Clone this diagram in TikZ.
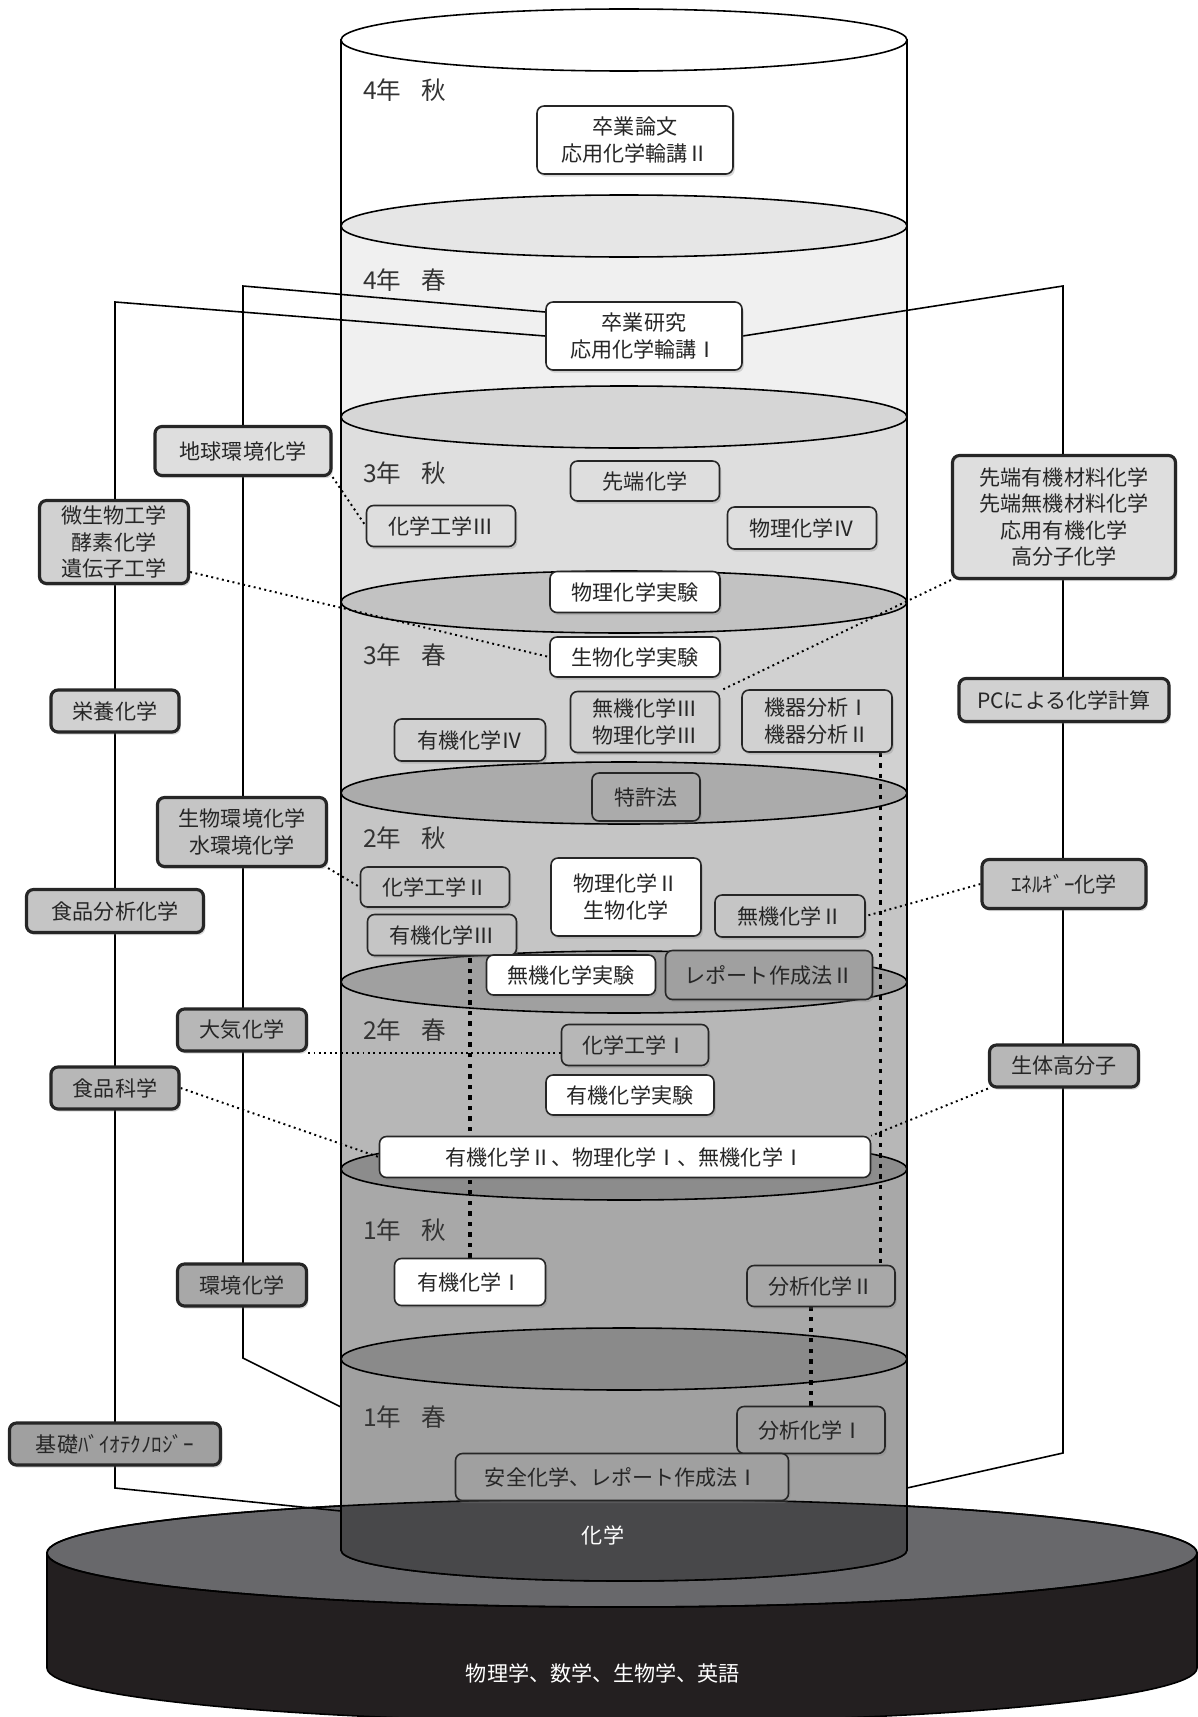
\documentclass[tikz,border=0pt]{standalone}
\usepackage{fontspec}
\setmainfont{Noto Sans CJK JP}
\usetikzlibrary{shadows}

\definecolor{ly4a}{HTML}{FFFFFF}
\definecolor{ly4s}{HTML}{F0F0F0}
\definecolor{ly3a}{HTML}{DEDEDE}
\definecolor{ly3s}{HTML}{D1D1D1}
\definecolor{ly2a}{HTML}{C5C5C5}
\definecolor{ly2s}{HTML}{B7B7B7}
\definecolor{ly1a}{HTML}{A8A8A8}
\definecolor{ly1s}{HTML}{A0A0A0}
\definecolor{el4s}{HTML}{E6E6E6}
\definecolor{el3a}{HTML}{D6D6D6}
\definecolor{el3s}{HTML}{C2C2C2}
\definecolor{el2a}{HTML}{ABABAB}
\definecolor{el2s}{HTML}{A0A0A0}
\definecolor{el1a}{HTML}{8C8C8C}
\definecolor{el1s}{HTML}{8A8A8A}
\definecolor{cyldark}{HTML}{48484A}
\definecolor{basetop}{HTML}{68686B}
\definecolor{baseside}{HTML}{231F20}

\pgfdeclarelayer{back}
\pgfdeclarelayer{mid}
\pgfsetlayers{back,mid,main}

\tikzset{
  wh/.style 2 args={minimum width=#1*0.02cm, minimum height=#2*0.02cm},
  course/.style={draw=black!85, line width=0.9pt, rounded corners=4pt, align=center,
    inner sep=0pt, text=black!85, font=\fontsize{12}{15}\selectfont,
    drop shadow={shadow xshift=1pt, shadow yshift=-1.5pt, opacity=0.3}},
  side/.style={course, line width=1.8pt},
  year/.style={anchor=west, text=black!80, font=\fontsize{14}{16}\selectfont},
  tree/.style={line width=0.9pt},
  hint/.style={dotted, line width=1.1pt},
  seq/.style={dash pattern=on 2.5pt off 3.5pt, line width=1.9pt},
  rim/.style={line width=0.9pt},
}

\begin{document}
\begin{tikzpicture}[x=0.02cm, y=-0.02cm]
\useasboundingbox (0,0) rectangle (1197,1717);

\begin{pgfonlayer}{back}
  % base
  \filldraw[rim, fill=baseside] (47,1553) -- (47,1668) arc[start angle=180, end angle=0, x radius=575, y radius=54] -- (1197,1553) -- cycle;
  \filldraw[rim, fill=basetop] (622,1553) ellipse [x radius=575, y radius=54];

  % cylinder, top to bottom
  \filldraw[rim, fill=ly4a] (341,40) -- (341,226) arc[start angle=180, end angle=0, x radius=283, y radius=31] -- (907,40) -- cycle;
  \filldraw[rim, fill=white] (624,40) ellipse [x radius=283, y radius=31];

  \filldraw[rim, fill=ly4s] (341,226) -- (341,417) arc[start angle=180, end angle=0, x radius=283, y radius=31] -- (907,226) -- cycle;
  \filldraw[rim, fill=el4s] (624,226) ellipse [x radius=283, y radius=31];

  \filldraw[rim, fill=ly3a] (341,417) -- (341,602) arc[start angle=180, end angle=0, x radius=283, y radius=31] -- (907,417) -- cycle;
  \filldraw[rim, fill=el3a] (624,417) ellipse [x radius=283, y radius=31];

  \filldraw[rim, fill=ly3s] (341,602) -- (341,793) arc[start angle=180, end angle=0, x radius=283, y radius=31] -- (907,602) -- cycle;
  \filldraw[rim, fill=el3s] (624,602) ellipse [x radius=283, y radius=31];

  \filldraw[rim, fill=ly2a] (341,793) -- (341,982) arc[start angle=180, end angle=0, x radius=283, y radius=31] -- (907,793) -- cycle;
  \filldraw[rim, fill=el2a] (624,793) ellipse [x radius=283, y radius=31];

  \filldraw[rim, fill=ly2s] (341,982) -- (341,1169) arc[start angle=180, end angle=0, x radius=283, y radius=31] -- (907,982) -- cycle;
  \filldraw[rim, fill=el2s] (624,982) ellipse [x radius=283, y radius=31];

  \filldraw[rim, fill=ly1a] (341,1169) -- (341,1359) arc[start angle=180, end angle=0, x radius=283, y radius=31] -- (907,1169) -- cycle;
  \filldraw[rim, fill=el1a] (624,1169) ellipse [x radius=283, y radius=31];

  \filldraw[rim, fill=ly1s] (341,1359) -- (341,1550) arc[start angle=180, end angle=0, x radius=283, y radius=31] -- (907,1359) -- cycle;
  \filldraw[rim, fill=el1s] (624,1359) ellipse [x radius=283, y radius=31];

  % foot of the cylinder inside the base
  \begin{scope}
    \clip (622,1553) ellipse [x radius=575, y radius=54];
    \fill[cyldark] (341,1359) -- (341,1550) arc[start angle=180, end angle=0, x radius=283, y radius=31] -- (907,1359) -- cycle;
  \end{scope}
  \draw[rim] (341,1480) -- (341,1550) arc[start angle=180, end angle=0, x radius=283, y radius=31] -- (907,1480);
  \draw[rim] (622,1553) ellipse [x radius=575, y radius=54];
\end{pgfonlayer}

\node[year] (y4a) at (357,90) {4年\hspace{0.8em}秋};
\node[year] (y4s) at (357,280) {4年\hspace{0.8em}春};
\node[year] (y3a) at (357,473) {3年\hspace{0.8em}秋};
\node[year] (y3s) at (357,655) {3年\hspace{0.8em}春};
\node[year] (y2a) at (357,838) {2年\hspace{0.8em}秋};
\node[year] (y2s) at (357,1030) {2年\hspace{0.8em}春};
\node[year] (y1a) at (357,1230) {1年\hspace{0.8em}秋};
\node[year] (y1s) at (357,1417) {1年\hspace{0.8em}春};

\node[text=white, font=\fontsize{12}{15}\selectfont] (kagaku) at (603,1535) {化学};
\node[text=white, font=\fontsize{12}{15}\selectfont] (kiban) at (603,1673) {物理学、数学、生物学、英語};

% inside the cylinder
\node[course, wh={196}{68}, fill=white] (ronbun) at (635,140) {卒業論文\\応用化学輪講Ⅱ};
\node[course, wh={196}{68}, fill=white] (kenkyu) at (644,336) {卒業研究\\応用化学輪講Ⅰ};
\node[course, wh={149}{40}, fill=ly3a] (sentan) at (645,481) {先端化学};
\node[course, wh={149}{41}, fill=ly3a] (kakoIII) at (441,526) {化学工学Ⅲ};
\node[course, wh={149}{42}, fill=ly3a] (butsuriIV) at (802,528) {物理化学Ⅳ};
\node[course, wh={170}{41}, fill=white] (butsurijikken) at (635,592) {物理化学実験};
\node[course, wh={170}{40}, fill=white] (seibutsujikken) at (635,657) {生物化学実験};
\node[course, wh={149}{61}, fill=ly3s] (mukiIII) at (645,722) {無機化学Ⅲ\\物理化学Ⅲ};
\node[course, wh={150}{62}, fill=ly3s] (kiki) at (817,721) {機器分析Ⅰ\\機器分析Ⅱ};
\node[course, wh={151}{42}, fill=ly3s] (yukiIV) at (470,740) {有機化学Ⅳ};
\node[course, wh={108}{48}, fill=el2a] (tokkyo) at (646,797) {特許法};
\node[course, wh={149}{40}, fill=ly2a] (kakoII) at (435,887) {化学工学Ⅱ};
\node[course, wh={149}{41}, fill=ly2a] (yukiIII) at (442,935) {有機化学Ⅲ};
\node[course, wh={150}{78}, fill=white] (butsuriII) at (626,897) {物理化学Ⅱ\\生物化学};
\node[course, wh={150}{42}, fill=ly2a] (mukiII) at (790,916) {無機化学Ⅱ};
\node[course, wh={169}{40}, fill=white] (mukijikken) at (571,975) {無機化学実験};
\node[course, wh={207}{49}, fill=el2s] (reportII) at (769,975) {レポート作成法Ⅱ};
\node[course, wh={147}{41}, fill=ly2s] (kakoI) at (635,1045) {化学工学Ⅰ};
\node[course, wh={168}{40}, fill=white] (yukijikken) at (630,1095) {有機化学実験};
\node[course, wh={491}{41}, fill=white] (yukiII) at (625,1157) {有機化学Ⅱ、物理化学Ⅰ、無機化学Ⅰ};
\node[course, wh={151}{47}, fill=white] (yukiI) at (470,1282) {有機化学Ⅰ};
\node[course, wh={148}{41}, fill=ly1a] (bunsekiII) at (821,1286) {分析化学Ⅱ};
\node[course, wh={148}{47}, fill=ly1s] (bunsekiI) at (811,1430) {分析化学Ⅰ};
\node[course, wh={333}{47}, fill=ly1s] (anzen) at (622,1477) {安全化学、レポート作成法Ⅰ};

% left side
\node[side, wh={176}{49}, fill=ly3a] (chikyu) at (243,451) {地球環境化学};
\node[side, wh={149}{83}, fill=ly3s] (biseibutsu) at (114,542) {微生物工学\\酵素化学\\遺伝子工学};
\node[side, wh={128}{42}, fill=ly3s] (eiyo) at (115,711) {栄養化学};
\node[side, wh={169}{69}, fill=ly2a] (seibutsukankyo) at (242,832) {生物環境化学\\水環境化学};
\node[side, wh={177}{43}, fill=ly2a] (shokuhinbunseki) at (115,911) {食品分析化学};
\node[side, wh={129}{42}, fill=ly2s] (taiki) at (242,1030) {大気化学};
\node[side, wh={128}{42}, fill=ly2s] (shokuhin) at (115,1088) {食品科学};
\node[side, wh={129}{42}, fill=ly1a] (kankyo) at (242,1285) {環境化学};
\node[side, wh={211}{42}, fill=ly1s] (kiso) at (115,1444) {基礎ﾊﾞｲｵﾃｸﾉﾛｼﾞｰ};

% right side
\node[side, wh={223}{123}, fill=ly3a] (sentanzai) at (1064,517) {先端有機材料化学\\先端無機材料化学\\応用有機化学\\高分子化学};
\node[side, wh={210}{43}, fill=ly3s] (pc) at (1064,700) {PCによる化学計算};
\node[side, wh={164}{49}, fill=ly2a] (energy) at (1064,884) {ｴﾈﾙｷﾞｰ化学};
\node[side, wh={149}{42}, fill=ly2s] (seitai) at (1064,1066) {生体高分子};

\coordinate (ltop) at (115,302);
\coordinate (lbot) at (115,1488);
\coordinate (lend) at (341,1511);
\coordinate (mtop) at (243,286);
\coordinate (mbot) at (243,1358);
\coordinate (mend) at (341,1407);
\coordinate (rtop) at (1063,286);
\coordinate (rbot) at (1063,1453);
\coordinate (rend) at (907,1488);
\coordinate (kikiend) at ([xshift=-0.24cm]kiki.south east);

\begin{pgfonlayer}{mid}
  \draw[tree] (kenkyu.west) -- (ltop) -- (lbot) -- (lend);
  \draw[tree] ([yshift=0.48cm]kenkyu.west) -- (mtop) -- (mbot) -- (mend);
  \draw[tree] (kenkyu.east) -- (rtop) -- (rbot) -- (rend);

  \draw[hint] (chikyu.south east) -- (kakoIII.west);
  \draw[hint] ([yshift=-0.6cm]biseibutsu.east) -- (seibutsujikken.west);
  \draw[hint] (sentanzai.south west) -- (mukiIII.north east);
  \draw[hint] (seibutsukankyo.south east) -- (kakoII.west);
  \draw[hint] (taiki.south east) -- (taiki.south east -| kakoI.west);
  \draw[hint] (shokuhin.east) -- (yukiII.west);
  \draw[hint] (energy.west) -- (mukiII.east);
  \draw[hint] (seitai.south west) -- (yukiII.north east);

  \draw[seq] (yukiI.north) -- (yukiI.north |- yukiIII.south);
  \draw[seq] (kikiend) -- (kikiend |- bunsekiII.north);
  \draw[seq] (bunsekiI.north) -- (bunsekiI.north |- bunsekiII.south);
\end{pgfonlayer}
\end{tikzpicture}
\end{document}
